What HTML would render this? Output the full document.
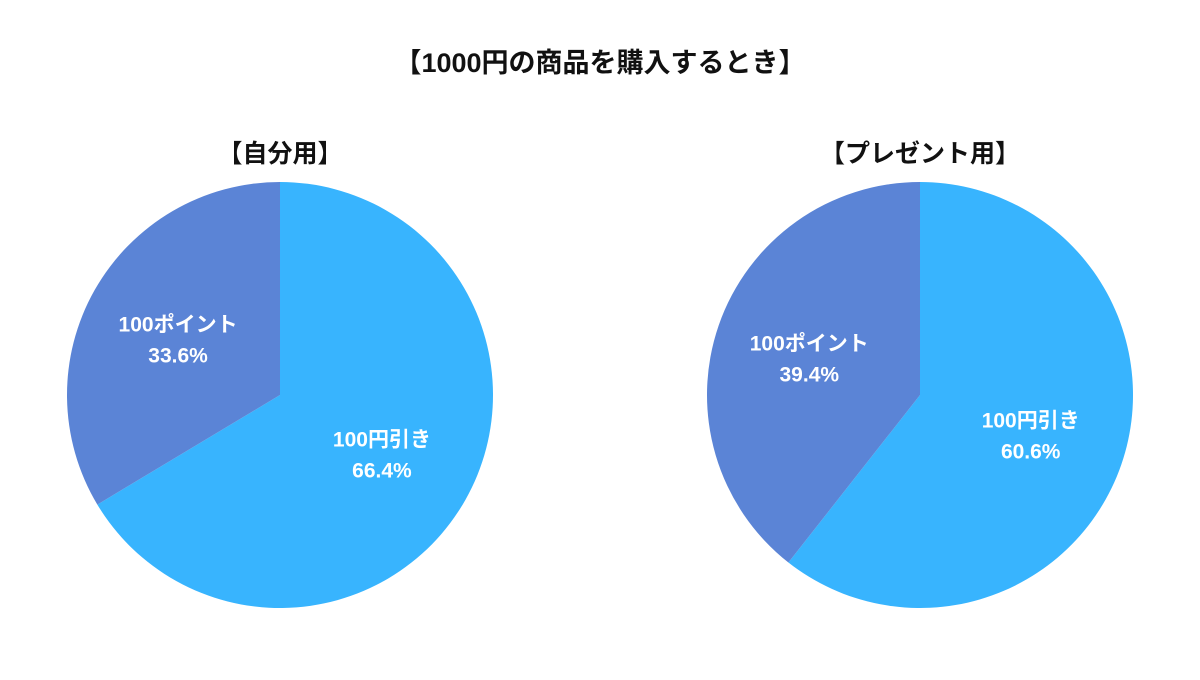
<!DOCTYPE html>
<html><head><meta charset="utf-8"><style>
html,body{margin:0;padding:0;background:#fff;}
svg text{font-family:"Liberation Sans","Noto Sans CJK JP",sans-serif;}
</style></head><body>
<svg id="chart" width="1200" height="675" viewBox="0 0 1200 675">
<text x="600" y="72" text-anchor="middle" font-size="27" font-weight="bold" fill="#111">【1000円の商品を購入するとき】</text>
</svg>
<script>
const pieTitles = ["【自分用】", "【プレゼント用】"];
const categories = ["100円引き", "100ポイント"];
const discountValues = [66.4, 60.6];
const pointValues = [33.6, 39.4];
const colors = ["#38B4FE", "#5B84D6"];
const centersX = [280, 920];
const cy = 395, r = 213;
const svg = document.getElementById('chart');
const NS = "http://www.w3.org/2000/svg";
function mk(tag, attrs){const e=document.createElementNS(NS,tag);for(const k in attrs)e.setAttribute(k,attrs[k]);return e;}
function pt(cx,ang,rad){return [cx+rad*Math.sin(ang), cy-rad*Math.cos(ang)];}
pieTitles.forEach((t,i)=>{
  const cx=centersX[i];
  const tt=mk('text',{x:cx,y:162,'text-anchor':'middle','font-size':25,'font-weight':'bold',fill:'#111'});
  tt.textContent=t;
  
  
  svg.appendChild(tt);
  const vals=[discountValues[i],pointValues[i]];
  const total=vals[0]+vals[1];
  let a0=0;
  vals.forEach((v,j)=>{
    const a1=a0+v/total*2*Math.PI;
    const p0=pt(cx,a0,r),p1=pt(cx,a1,r);
    const large=(a1-a0)>Math.PI?1:0;
    const path=mk('path',{d:`M${cx},${cy} L${p0[0]},${p0[1]} A${r},${r} 0 ${large} 1 ${p1[0]},${p1[1]} Z`,fill:colors[j]});
    
    
    svg.appendChild(path);
    const mid=(a0+a1)/2;
    const lp=pt(cx,mid,r*0.55);
    const l1=mk('text',{x:lp[0],y:lp[1]-6,'text-anchor':'middle','font-size':21,'font-weight':'bold',fill:'#fff'});
    l1.textContent=categories[j];
    
    
    svg.appendChild(l1);
    const l2=mk('text',{x:lp[0],y:lp[1]+25,'text-anchor':'middle','font-size':21,'font-weight':'bold',fill:'#fff'});
    l2.textContent=v.toFixed(1)+'%';
    
    
    svg.appendChild(l2);
    a0=a1;
  });
});
</script>
</body></html>
